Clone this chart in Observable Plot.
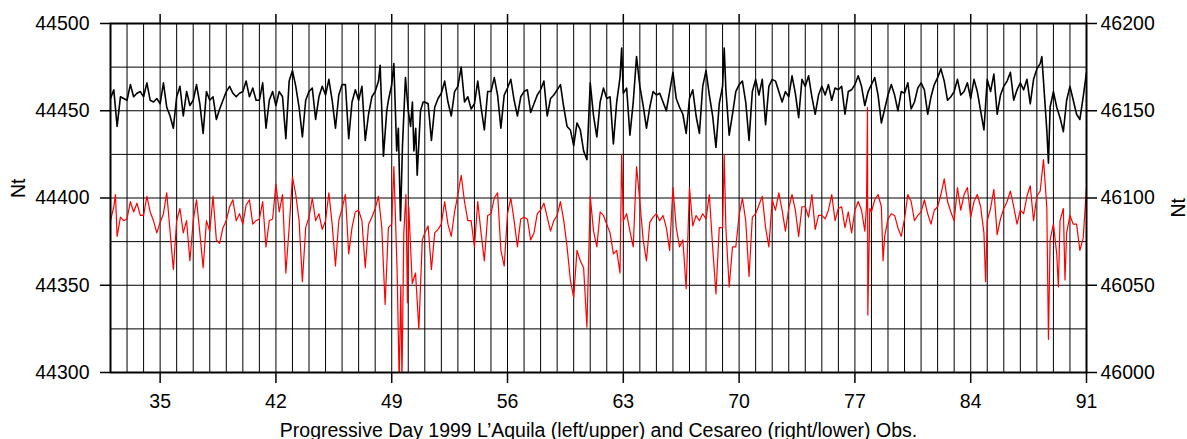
<!DOCTYPE html>
<html><head><meta charset="utf-8">
<script src="https://cdn.jsdelivr.net/npm/d3@7"></script>
<script src="https://cdn.jsdelivr.net/npm/@observablehq/plot@0.6"></script>
<style>html,body{margin:0;padding:0;background:#fff}svg{display:block}</style>
</head><body><div id="chart"></div>
<script>
// ---- axis ticks / labels ----
const xTicks = [35, 42, 49, 56, 63, 70, 77, 84, 91];
const xDomain = [32, 91];
const leftTicks = [44300, 44350, 44400, 44450, 44500];
const rightTicks = [46000, 46050, 46100, 46150, 46200];
const gridNt = [44300, 44325, 44350, 44375, 44400, 44425, 44450, 44475, 44500];
const xLabel = "Progressive Day 1999 L\u2019Aquila (left/upper) and Cesareo (right/lower) Obs.";
const yLabel = "Nt";

// ---- L'Aquila (left axis, black) ----
const aquilaDay = [
  32,32.2,32.4,32.6,32.8,33,33.2,33.4,33.6,33.8,34,34.2,34.4,34.6,34.8,35,35.2,35.4,35.6,35.8,36,36.2,36.4,36.6,36.8,37,37.2,37.4,37.6,37.8,38,38.2,38.4,38.6,38.8,39,39.2,39.4,
  39.6,39.8,40,40.2,40.4,40.6,40.8,41,41.2,41.4,41.6,41.8,42,42.2,42.4,42.6,42.8,43,43.2,43.4,43.6,43.8,44,44.2,44.4,44.6,44.8,45,45.2,45.4,45.6,45.8,46,46.2,46.4,46.6,46.8,
  47,47.2,47.4,47.6,47.8,48,48.2,48.3,48.5,48.7,48.8,49,49.13,49.3,49.4,49.53,49.65,49.83,50,50.14,50.25,50.34,50.45,50.54,50.74,50.9,51,51.2,51.4,51.6,51.8,52,52.2,52.4,52.6,52.8,53,53.2,53.4,53.6,53.8,54,
  54.2,54.4,54.6,54.8,55,55.2,55.4,55.6,55.8,56,56.2,56.4,56.6,56.8,57,57.2,57.4,57.6,57.8,58,58.2,58.4,58.6,58.8,59,59.2,59.4,59.6,59.8,60,60.2,60.4,60.6,60.8,61,61.2,61.4,
  61.6,61.8,62,62.2,62.4,62.6,62.8,62.9,63,63.2,63.4,63.6,63.8,64,64.2,64.4,64.6,64.8,65,65.2,65.4,65.6,65.8,66,66.2,66.4,66.6,66.8,67,67.2,67.4,67.6,67.8,68,68.2,68.4,68.6,68.8,
  69,69.1,69.2,69.4,69.6,69.8,70,70.2,70.4,70.6,70.8,71,71.2,71.4,71.6,71.8,72,72.2,72.4,72.6,72.8,73,73.2,73.4,73.6,73.8,74,74.2,74.4,74.6,74.8,75,75.2,75.4,75.6,75.8,76,
  76.2,76.4,76.6,76.8,77,77.2,77.4,77.6,77.8,78,78.2,78.4,78.6,78.8,79,79.2,79.4,79.6,79.8,80,80.2,80.4,80.6,80.8,81,81.2,81.4,81.6,81.8,82,82.2,82.4,82.6,82.8,83,83.2,83.4,83.6,
  83.8,84,84.2,84.4,84.6,84.8,85,85.2,85.4,85.6,85.8,86,86.2,86.4,86.6,86.8,87,87.2,87.4,87.6,87.8,88,88.2,88.3,88.4,88.6,88.7,88.8,89,89.2,89.4,89.6,89.8,90,90.2,90.4,90.6,90.8,91
];
const aquilaNt = [
  44457,44462,44441,44458,44457,44456,44465,44458,44460,44461,44458,44466,44456,44455,44457,44454,44466,44452,44447,44440,44458,44464,44447,44461,44453,44456,44465,44454,44437,44461,44456,44458,44445,44451,44456,44461,44464,44460,
  44458,44460,44461,44467,44458,44463,44456,44456,44466,44440,44456,44461,44453,44461,44458,44434,44467,44473,44464,44452,44435,44456,44461,44463,44445,44458,44464,44459,44468,44456,44440,44459,44465,44465,44434,44455,44462,
  44456,44464,44433,44448,44458,44461,44467,44476,44424,44450,44456,44465,44477,44427,44440,44387,44430,44469,44450,44441,44455,44427,44440,44413,44450,44455,44455,44454,44433,44452,44457,44460,44467,44455,44447,44461,44464,44475,44455,44458,44451,44454,
  44467,44452,44439,44461,44461,44469,44459,44440,44459,44463,44468,44456,44447,44458,44461,44462,44449,44454,44459,44462,44467,44447,44457,44459,44462,44465,44452,44441,44439,44430,44443,44439,44427,44422,44466,44447,44435,
  44455,44463,44457,44458,44431,44455,44469,44486,44460,44463,44436,44455,44481,44464,44453,44440,44452,44461,44459,44460,44455,44450,44461,44472,44457,44452,44448,44437,44457,44462,44447,44437,44464,44473,44459,44447,44429,44454,
  44464,44486,44462,44436,44448,44461,44465,44467,44455,44433,44461,44468,44459,44468,44442,44464,44468,44467,44461,44455,44461,44458,44470,44460,44446,44468,44464,44470,44458,44448,44459,44464,44459,44465,44456,44463,44462,
  44464,44448,44461,44462,44465,44470,44464,44453,44461,44465,44469,44459,44443,44451,44459,44465,44459,44450,44461,44460,44466,44451,44455,44463,44466,44462,44448,44458,44465,44469,44474,44467,44456,44458,44461,44468,44459,44461,
  44466,44457,44468,44461,44450,44439,44468,44461,44471,44448,44459,44464,44467,44472,44456,44462,44466,44462,44468,44454,44468,44474,44477,44481,44467,44439,44420,44452,44461,44452,44446,44438,44456,44464,44456,44448,44445,44458,44472
];

// ---- Cesareo (right axis, red) ----
const cesareoDay = [
  32,32.2,32.3,32.4,32.6,32.8,33,33.2,33.4,33.6,33.8,34,34.2,34.4,34.6,34.8,35,35.2,35.4,35.6,35.8,36,36.2,36.4,36.6,36.8,37,37.2,37.4,37.6,37.8,38,38.2,38.4,38.6,38.8,39,39.2,39.4,
  39.6,39.8,40,40.2,40.4,40.6,40.8,41,41.2,41.4,41.6,41.8,42,42.2,42.4,42.6,42.8,43,43.2,43.4,43.6,43.8,44,44.2,44.4,44.6,44.8,45,45.2,45.4,45.6,45.8,46,46.2,46.4,46.6,46.8,
  47,47.2,47.4,47.6,47.8,48,48.2,48.4,48.6,48.8,49,49.13,49.33,49.45,49.55,49.62,49.73,49.86,49.95,50.03,50.24,50.44,50.64,50.85,51,51.2,51.4,51.6,51.8,52,52.2,52.4,52.6,52.8,53,53.2,53.4,53.6,53.8,54,
  54.2,54.4,54.6,54.8,55,55.2,55.4,55.6,55.8,56,56.2,56.4,56.6,56.8,57,57.2,57.4,57.6,57.8,58,58.2,58.4,58.6,58.8,59,59.2,59.4,59.6,59.8,60,60.2,60.4,60.6,60.8,61,61.2,61.4,
  61.6,61.8,62,62.2,62.4,62.6,62.8,62.9,63,63.2,63.4,63.6,63.8,64,64.2,64.4,64.6,64.8,65,65.2,65.4,65.6,65.8,66,66.2,66.4,66.6,66.8,67,67.2,67.4,67.6,67.8,68,68.2,68.4,68.6,68.8,
  69,69.1,69.2,69.4,69.6,69.8,70,70.2,70.4,70.6,70.8,71,71.2,71.4,71.6,71.8,72,72.2,72.4,72.6,72.8,73,73.2,73.4,73.6,73.8,74,74.2,74.4,74.6,74.8,75,75.2,75.4,75.6,75.8,76,
  76.2,76.4,76.6,76.8,77,77.2,77.4,77.6,77.7,77.76,77.78,77.9,78,78.2,78.4,78.6,78.7,78.8,79,79.2,79.4,79.6,79.8,80,80.2,80.4,80.6,80.8,81,81.2,81.4,81.6,81.8,82,82.2,82.4,82.6,82.8,83,83.2,83.4,83.6,
  83.8,84,84.2,84.4,84.6,84.8,84.9,85,85.2,85.4,85.6,85.8,86,86.2,86.4,86.6,86.8,87,87.2,87.4,87.6,87.8,88,88.2,88.4,88.6,88.7,88.8,89,89.2,89.3,89.4,89.6,89.7,89.8,90,90.2,90.4,90.6,90.8,91
];
const cesareoNt = [
  46087,46095,46102,46078,46089,46087,46088,46098,46092,46097,46090,46090,46101,46092,46087,46080,46086,46091,46103,46081,46059,46087,46094,46080,46087,46064,46087,46099,46080,46060,46087,46081,46101,46076,46074,46083,46087,46095,46099,
  46087,46091,46085,46096,46099,46085,46087,46088,46098,46072,46087,46088,46108,46092,46102,46057,46083,46112,46102,46087,46052,46083,46089,46100,46087,46091,46082,46087,46103,46085,46061,46087,46094,46102,46068,46083,46092,
  46093,46087,46060,46085,46089,46094,46101,46083,46039,46083,46085,46118,46057,45995,46050,45995,46080,46102,46040,46095,46051,46057,46025,46076,46080,46084,46059,46080,46082,46085,46098,46085,46078,46092,46102,46113,46098,46087,46087,46072,
  46098,46080,46064,46090,46091,46100,46103,46070,46061,46091,46100,46087,46072,46088,46089,46088,46076,46080,46091,46093,46097,46089,46081,46087,46090,46098,46087,46072,46053,46043,46070,46064,46060,46026,46101,46081,46072,
  46092,46090,46085,46080,46068,46070,46057,46125,46087,46091,46081,46072,46118,46098,46076,46064,46086,46089,46091,46087,46090,46083,46070,46106,46083,46072,46076,46048,46106,46084,46090,46087,46091,46088,46102,46072,46045,46083,
  46083,46125,46083,46049,46072,46072,46090,46100,46087,46055,46089,46091,46096,46101,46083,46072,46099,46093,46103,46093,46081,46094,46102,46093,46078,46095,46095,46089,46102,46082,46090,46090,46088,46093,46102,46087,46094,
  46095,46083,46092,46080,46093,46098,46093,46081,46095,46152,46033,46094,46092,46099,46102,46095,46064,46078,46088,46091,46090,46083,46078,46088,46102,46098,46087,46090,46092,46099,46091,46085,46093,46095,46102,46111,46098,46092,46087,46106,46093,46102,
  46106,46089,46098,46102,46095,46080,46052,46087,46094,46105,46079,46088,46094,46098,46104,46095,46085,46093,46091,46101,46107,46087,46101,46104,46122,46095,46019,46076,46085,46068,46049,46087,46094,46053,46080,46090,46085,46085,46070,46077,46106
];

// the right axis is the left axis shifted by a constant
const offset = rightTicks[0] - leftTicks[0];
const gridDays = d3.range(xDomain[0], xDomain[1] + 1);

const aquila = aquilaDay.map((d, i) => ({day: d, nt: aquilaNt[i]})).filter(d => d.nt != null);
const cesareo = cesareoDay.map((d, i) => ({day: d, nt: cesareoNt[i] - offset})).filter(d => Number.isFinite(d.nt));

const FS = 19.5;
const chart = Plot.plot({
  width: 1187,
  height: 439,
  marginLeft: 110,
  marginRight: 101,
  marginTop: 23,
  marginBottom: 67,
  x: {domain: xDomain, label: null},
  y: {domain: [leftTicks[0], leftTicks[leftTicks.length - 1]], label: null},
  style: {fontFamily: "'Liberation Sans', Arial, sans-serif", fontSize: FS + "px", color: "#000", background: "#fff", overflow: "visible"},
  marks: [
    Plot.ruleX(gridDays, {stroke: "#000", strokeWidth: 1}),
    Plot.ruleY(gridNt, {stroke: "#000", strokeWidth: 1}),
    Plot.line(cesareo, {x: "day", y: "nt", stroke: "#ff0000", strokeWidth: 1.2, clip: true}),
    Plot.line(aquila, {x: "day", y: "nt", stroke: "#000", strokeWidth: 1.6, clip: true}),
    Plot.frame({stroke: "#000", strokeWidth: 2}),
    Plot.axisX({ticks: xTicks, anchor: "bottom", tickSize: 11, tickPadding: 11, tickFormat: d => String(d), label: null, strokeWidth: 1.5, fontSize: FS}),
    Plot.axisX({ticks: xTicks, anchor: "top", tickSize: 10, tickFormat: () => "", label: null, strokeWidth: 1.5}),
    Plot.axisY({ticks: leftTicks, anchor: "left", tickSize: 10, tickPadding: 11, tickFormat: d => String(d), label: null, strokeWidth: 1.5, fontSize: FS}),
    Plot.axisY({ticks: leftTicks, anchor: "right", tickSize: 10, tickPadding: 4, tickFormat: d => String(d + offset), label: null, strokeWidth: 1.5, fontSize: FS}),
    Plot.text([xLabel], {frameAnchor: "bottom", dy: 64, fontSize: FS, fill: "#000"}),
    Plot.text([yLabel], {frameAnchor: "left", dx: -92, rotate: -90, fontSize: FS, fill: "#000"}),
    Plot.text([yLabel], {frameAnchor: "right", dx: 92, rotate: -90, fontSize: FS, fill: "#000"})
  ]
});
document.getElementById("chart").appendChild(chart);
</script>
</body></html>
